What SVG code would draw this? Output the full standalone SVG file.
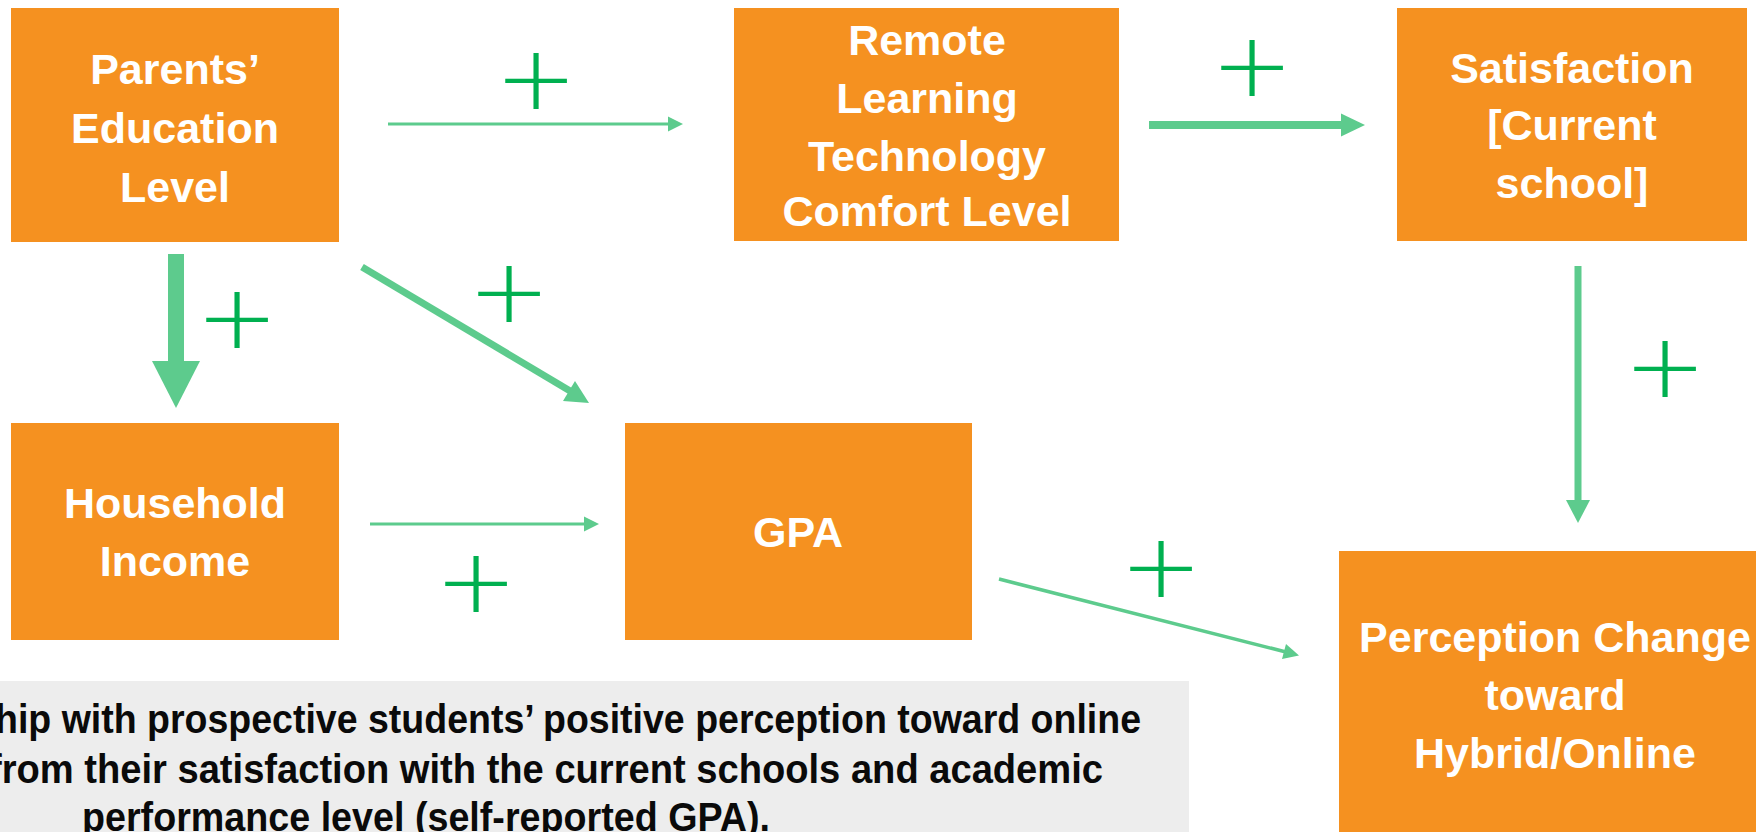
<svg xmlns="http://www.w3.org/2000/svg" width="1756" height="832" viewBox="0 0 1756 832">
<style>
.box{fill:#F59120}
.nt{fill:#FFFFFF;font-family:"Liberation Sans",Arial,sans-serif;font-weight:bold;font-size:43px;text-anchor:middle}
.ln{stroke:#5DCB8D;fill:none}
.hd{fill:#5DCB8D;stroke:none}
.pl{fill:#00B050;font-family:Lato,"Liberation Sans",sans-serif;font-weight:300;font-size:125px;text-anchor:middle}
.nb{fill:#0A0A0A;font-family:"Liberation Sans",Arial,sans-serif;font-weight:bold;font-size:40px}
</style>
<rect x="0" y="0" width="1756" height="832" fill="#FFFFFF"/>

<g id="note">
<rect x="-10" y="681" width="1199" height="170" fill="#EDEDED"/>
<text class="nb" x="-5" y="733" textLength="1146" lengthAdjust="spacingAndGlyphs">hip with prospective students’ positive perception toward online</text>
<text class="nb" x="-11" y="783" textLength="1114" lengthAdjust="spacingAndGlyphs">from their satisfaction with the current schools and academic</text>
<text class="nb" x="82" y="831" textLength="688" lengthAdjust="spacingAndGlyphs">performance level (self-reported GPA).</text>
</g>

<g id="connectors">
<g id="c-parents-remote">
<line class="ln" x1="388" y1="124" x2="670" y2="124" stroke-width="3"/>
<polygon class="hd" points="668,116.5 683,124 668,131.5"/>
</g>
<g id="c-remote-satisfaction">
<line class="ln" x1="1149" y1="125" x2="1343" y2="125" stroke-width="8"/>
<polygon class="hd" points="1341,113.5 1365,125 1341,136.5"/>
</g>
<g id="c-parents-household">
<rect class="hd" x="168" y="254" width="16" height="109"/>
<polygon class="hd" points="152,361 200,361 176,408"/>
</g>
<g id="c-parents-gpa">
<line class="ln" x1="362" y1="267" x2="571" y2="391.5" stroke-width="7"/>
<polygon class="hd" points="575,381 589,403 563,401"/>
</g>
<g id="c-household-gpa">
<line class="ln" x1="370" y1="524" x2="586" y2="524" stroke-width="3"/>
<polygon class="hd" points="584,516.5 599,524 584,531.5"/>
</g>
<g id="c-gpa-perception">
<line class="ln" x1="999" y1="579" x2="1286" y2="652" stroke-width="3.5"/>
<polygon class="hd" points="1286,644 1299,655.5 1282,659"/>
</g>
<g id="c-satisfaction-perception">
<line class="ln" x1="1578" y1="266" x2="1578" y2="502" stroke-width="7"/>
<polygon class="hd" points="1566,500 1590,500 1578,523"/>
</g>
<g id="signs">
<text class="pl" transform="translate(536 79) scale(1.05 0.92)" x="0" y="43">+</text>
<text class="pl" transform="translate(237 318) scale(1.05 0.92)" x="0" y="43">+</text>
<text class="pl" transform="translate(509 292) scale(1.05 0.92)" x="0" y="43">+</text>
<text class="pl" transform="translate(1252 66) scale(1.05 0.92)" x="0" y="43">+</text>
<text class="pl" transform="translate(1665 367) scale(1.05 0.92)" x="0" y="43">+</text>
<text class="pl" transform="translate(476 582) scale(1.05 0.92)" x="0" y="43">+</text>
<text class="pl" transform="translate(1161 567) scale(1.05 0.92)" x="0" y="43">+</text>
</g>
</g>

<g id="parents">
<rect class="box" x="11" y="8" width="328" height="234"/>
<text class="nt" x="175" y="84">Parents’</text>
<text class="nt" x="175" y="143">Education</text>
<text class="nt" x="175" y="202">Level</text>
</g>
<g id="remote">
<rect class="box" x="734" y="8" width="385" height="233"/>
<text class="nt" x="927" y="55">Remote</text>
<text class="nt" x="927" y="113">Learning</text>
<text class="nt" x="927" y="171">Technology</text>
<text class="nt" x="927" y="226">Comfort Level</text>
</g>
<g id="satisfaction">
<rect class="box" x="1397" y="8" width="350" height="233"/>
<text class="nt" x="1572" y="83">Satisfaction</text>
<text class="nt" x="1572" y="140">[Current</text>
<text class="nt" x="1572" y="198">school]</text>
</g>
<g id="household">
<rect class="box" x="11" y="423" width="328" height="217"/>
<text class="nt" x="175" y="518">Household</text>
<text class="nt" x="175" y="576">Income</text>
</g>
<g id="gpa">
<rect class="box" x="625" y="423" width="347" height="217"/>
<text class="nt" x="798" y="547">GPA</text>
</g>
<g id="perception">
<rect class="box" x="1339" y="551" width="432" height="300"/>
<text class="nt" x="1555" y="652">Perception Change</text>
<text class="nt" x="1555" y="710">toward</text>
<text class="nt" x="1555" y="768">Hybrid/Online</text>
</g>
</svg>
